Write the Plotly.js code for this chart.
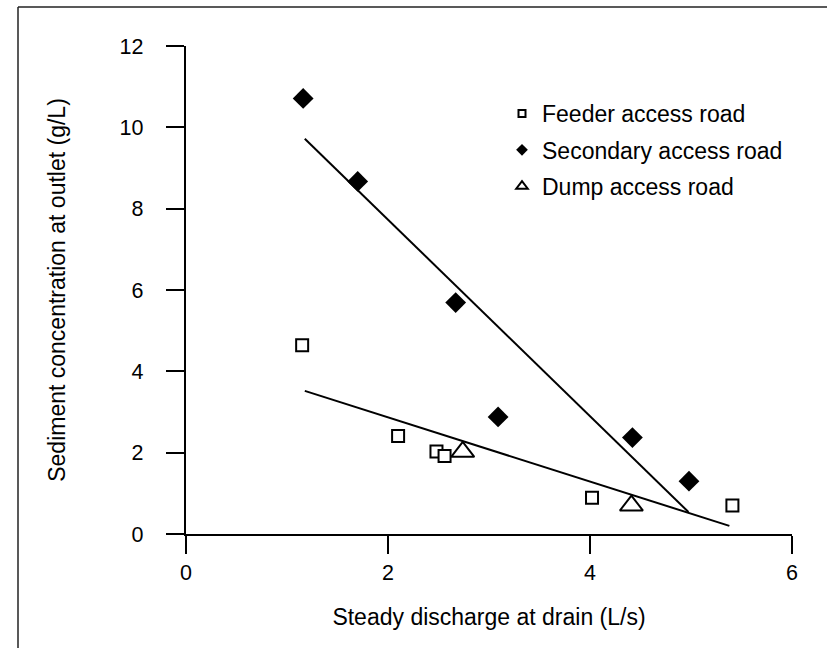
<!DOCTYPE html>
<html>
<head>
<meta charset="utf-8">
<script src="https://cdn.plot.ly/plotly-3.0.1.min.js"></script>
<style>
  html, body { margin: 0; padding: 0; background: #fff; }
  #chart { width: 827px; height: 648px; }
</style>
</head>
<body>
<div id="chart"></div>
<script>
// ---- data ----
const feederX = [1.15, 2.10, 2.48, 2.56, 4.02, 5.41];
const feederY = [4.64, 2.41, 2.03, 1.92, 0.89, 0.70];

const secondaryX = [1.16, 1.70, 2.67, 3.09, 4.42, 4.98];
const secondaryY = [10.71, 8.67, 5.69, 2.88, 2.37, 1.30];

const dumpX = [2.74, 4.41];
const dumpY = [2.02, 0.70];

// fitted lines (end points)
const fitSecondaryX = [1.176, 4.975];
const fitSecondaryY = [9.72, 0.54];
const fitFeederX = [1.176, 5.38];
const fitFeederY = [3.52, 0.20];

const seriesNames = ['Feeder access road', 'Secondary access road', 'Dump access road'];
const xTicks = [0, 2, 4, 6];
const yTicks = [0, 2, 4, 6, 8, 10, 12];

const FONT = 'Arial, "Liberation Sans", Helvetica, sans-serif';

const traces = [
  { x: fitSecondaryX, y: fitSecondaryY, mode: 'lines', type: 'scatter',
    line: { color: '#000', width: 2 }, showlegend: false, hoverinfo: 'skip', cliponaxis: false },
  { x: fitFeederX, y: fitFeederY, mode: 'lines', type: 'scatter',
    line: { color: '#000', width: 2 }, showlegend: false, hoverinfo: 'skip', cliponaxis: false },
  { x: feederX, y: feederY, mode: 'markers', type: 'scatter', name: seriesNames[0],
    marker: { symbol: 'square', size: 12, color: '#fff', line: { color: '#000', width: 2 } },
    showlegend: false, cliponaxis: false },
  { x: secondaryX, y: secondaryY, mode: 'markers', type: 'scatter', name: seriesNames[1],
    marker: { symbol: 'diamond', size: 16, color: '#000', line: { color: '#000', width: 0 } },
    showlegend: false, cliponaxis: false },
  { x: dumpX, y: dumpY, mode: 'markers', type: 'scatter', name: seriesNames[2],
    marker: { symbol: 'triangle-up', size: 20, color: '#fff', line: { color: '#000', width: 2 } },
    showlegend: false, cliponaxis: false },
  // legend-only entries (smaller symbols as in the reference legend)
  { x: [null], y: [null], mode: 'markers', type: 'scatter', name: seriesNames[0], legendgroup: 'a',
    marker: { symbol: 'square', size: 7, color: '#fff', line: { color: '#000', width: 2 } } },
  { x: [null], y: [null], mode: 'markers', type: 'scatter', name: seriesNames[1], legendgroup: 'b',
    marker: { symbol: 'diamond', size: 9, color: '#000', line: { width: 0 } } },
  { x: [null], y: [null], mode: 'markers', type: 'scatter', name: seriesNames[2], legendgroup: 'c',
    marker: { symbol: 'triangle-up', size: 10, color: '#fff', line: { color: '#000', width: 2 } } }
];

const L = 186, R = 35, T = 46, B = 114;
const PW = 827 - L - R, PH = 648 - T - B;
const px = v => (v - L) / PW;          // pixel x -> paper x
const py = v => 1 - (v - T) / PH;      // pixel y -> paper y

const layout = {
  width: 827, height: 648,
  margin: { l: L, r: R, t: T, b: B, pad: 0 },
  paper_bgcolor: '#fff', plot_bgcolor: '#fff',
  font: { family: FONT, color: '#000', size: 22 },
  showlegend: true,
  legend: {
    x: px(502), y: py(92), xanchor: 'left', yanchor: 'top',
    bgcolor: 'rgba(0,0,0,0)', borderwidth: 0,
    font: { family: FONT, size: 23, color: '#000' },
    traceorder: 'grouped', tracegroupgap: 3.5
  },
  xaxis: {
    range: [0, 6], tickvals: xTicks, ticktext: xTicks.map(String),
    showgrid: false, zeroline: false, showline: true, linecolor: '#000', linewidth: 2.2,
    ticks: 'outside', ticklen: 18, tickwidth: 2.2, tickcolor: '#000',
    tickfont: { family: FONT, size: 21.5, color: '#000' },
    title: { text: 'Steady discharge at drain (L/s)', font: { family: FONT, size: 23, color: '#000' }, standoff: 25 },
    automargin: false, fixedrange: true
  },
  yaxis: {
    range: [0, 12], tickvals: yTicks, ticktext: yTicks.map(String),
    showgrid: false, zeroline: false, showline: true, linecolor: '#000', linewidth: 2.2,
    ticks: 'outside', ticklen: 18, tickwidth: 2.2, tickcolor: '#000',
    ticklabelstandoff: 18,
    tickfont: { family: FONT, size: 21.5, color: '#000' },
    title: { text: 'Sediment concentration at outlet (g/L)', font: { family: FONT, size: 23, color: '#000' }, standoff: 48 },
    automargin: false, fixedrange: true
  },
  shapes: [
    { type: 'line', xref: 'paper', yref: 'paper', x0: px(18), x1: px(900), y0: py(7), y1: py(7),
      line: { color: '#222', width: 1.5 } },
    { type: 'line', xref: 'paper', yref: 'paper', x0: px(18), x1: px(18), y0: py(7), y1: py(720),
      line: { color: '#222', width: 1.5 } }
  ]
};

Plotly.newPlot('chart', traces, layout, { displayModeBar: false, staticPlot: true });
</script>
</body>
</html>
